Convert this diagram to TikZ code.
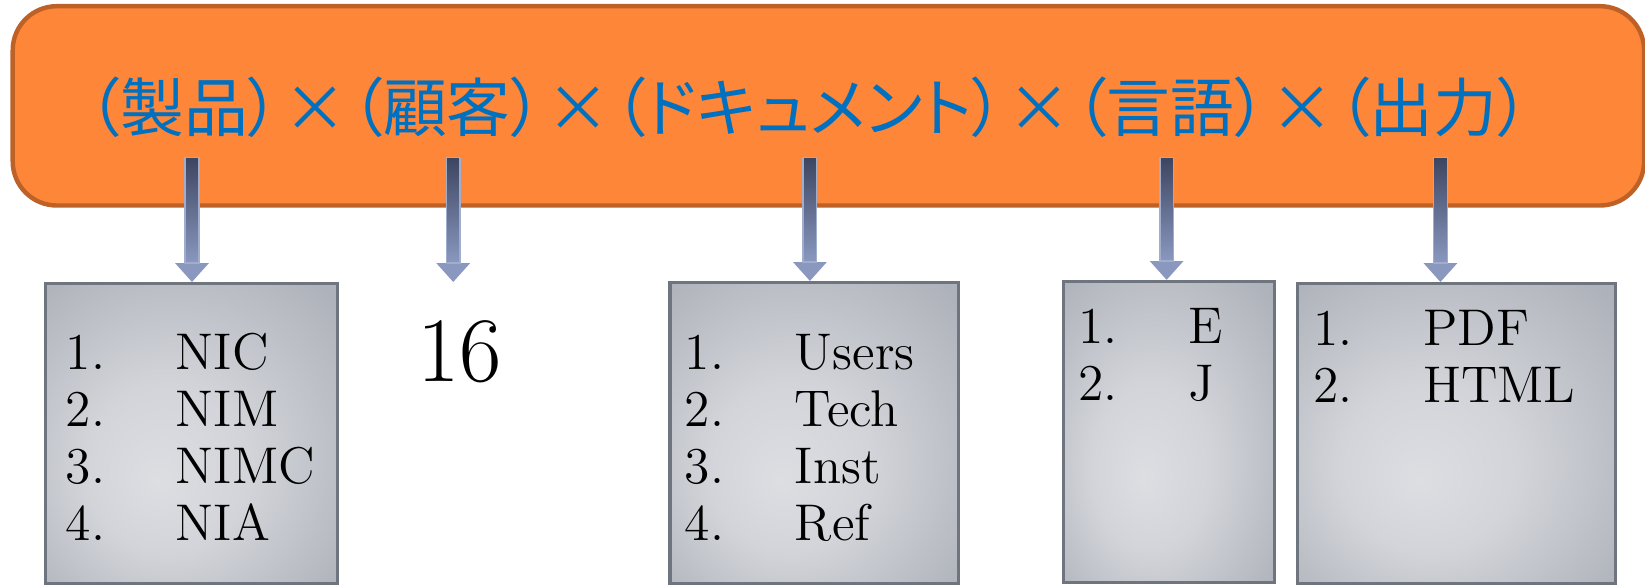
\documentclass[tikz,border=0pt]{standalone}
\usepackage{fontspec}
\newfontfamily\jpfont[RawFeature=+palt]{Noto Sans CJK JP}
\usetikzlibrary{arrows.meta,calc}

\definecolor{headorange}{HTML}{FD8638}
\definecolor{headedge}{HTML}{BD6127}
\definecolor{headblue}{HTML}{0070C0}
\definecolor{boxedge}{HTML}{6F757F}
\definecolor{boxlight}{HTML}{DDDEE2}
\definecolor{boxmid}{HTML}{D2D4D9}
\definecolor{boxdark}{HTML}{AEB2BA}
\definecolor{arrowdark}{HTML}{3C4560}
\definecolor{arrowlight}{HTML}{8A98C0}

% soft grey glow for the list boxes, lighter towards the lower left
\pgfdeclareradialshading{boxglow}{\pgfpoint{-6bp}{-8bp}}{%
  color(0bp)=(boxlight); color(14bp)=(boxmid); color(36bp)=(boxdark); color(50bp)=(boxdark)}

\tikzset{
  headbox/.style={draw=headedge, fill=headorange, line width=1.2pt, rounded corners=0.42cm, anchor=south west, inner sep=0pt},
  headtext/.style={text=headblue, inner sep=0pt, font=\jpfont\fontsize{17.3}{20}\selectfont},
  listbox/.style={draw=boxedge, line width=0.9pt, shading=boxglow, anchor=south west, inner sep=0pt},
  listtext/.style={anchor=base west, inner sep=0pt, font=\fontsize{14}{15.5}\selectfont},
  flow/.style={line width=0.13cm, draw=arrowlight, -{Triangle[width=0.31cm,length=0.18cm]}},
  shaft/.style={top color=arrowdark, bottom color=arrowlight, draw=arrowlight!80!white, line width=0.4pt},
}

\begin{document}
\begin{tikzpicture}
    \useasboundingbox (0,0) rectangle (15.68,5.60);

    % orange header with the product formula
    \node[headbox, minimum width=15.55cm, minimum height=1.90cm] (head) at (0.10,3.62) {};
    \node[headtext] (formula) at (7.71,4.58) {（製品）\kern.06em×\kern.06em（顧客）\kern.06em×\kern.06em（ドキュメント）\kern.06em×\kern.06em（言語）\kern.06em×\kern.06em（出力）};

    % start points of the arrows under each factor
    \coordinate (s1) at (1.83,4.10);
    \coordinate (s2) at (4.32,4.10);
    \coordinate (s3) at (7.72,4.10);
    \coordinate (s4) at (11.12,4.10);
    \coordinate (s5) at (13.73,4.10);

    % the lists below
    \node[listbox, minimum width=2.78cm, minimum height=2.86cm] (prod) at (0.42,0.02) {};
    \node[listbox, minimum width=2.75cm, minimum height=2.87cm] (doc) at (6.37,0.02) {};
    \node[listbox, minimum width=2.01cm, minimum height=2.87cm] (lang) at (10.12,0.03) {};
    \node[listbox, minimum width=3.03cm, minimum height=2.86cm] (out) at (12.35,0.02) {};

    \node[listtext] (prodlist) at (0.62,2.08) {\begin{tabular}[t]{@{}p{1.05cm}@{}l@{}}1. & NIC\\ 2. & NIM\\ 3. & NIMC\\ 4. & NIA\end{tabular}};
    \node[listtext] (doclist) at (6.52,2.08) {\begin{tabular}[t]{@{}p{1.05cm}@{}l@{}}1. & Users\\ 2. & Tech\\ 3. & Inst\\ 4. & Ref\end{tabular}};
    \node[listtext] (langlist) at (10.27,2.33) {\begin{tabular}[t]{@{}p{1.05cm}@{}l@{}}1. & E\\ 2. & J\end{tabular}};
    \node[listtext] (outlist) at (12.51,2.31) {\begin{tabular}[t]{@{}p{1.05cm}@{}l@{}}1. & PDF\\ 2. & HTML\end{tabular}};

    % number of customers
    \node[font=\fontsize{25}{30}\selectfont] (num) at (4.38,2.25) {16};

    % draw arrows from the header down to the lists
    \draw[flow] (s1) -- (s1 |- prod.north);
    \draw[flow] (s2) -- (s2 |- prod.north);
    \draw[flow] (s3) -- (s3 |- doc.north);
    \draw[flow] (s4) -- (s4 |- lang.north);
    \draw[flow] (s5) -- (s5 |- out.north);

    % shade the arrow shafts
    \shade[shaft] ($(s1)+(-0.065,0)$) rectangle ($(s1 |- prod.north)+(0.065,0.18)$);
    \shade[shaft] ($(s2)+(-0.065,0)$) rectangle ($(s2 |- prod.north)+(0.065,0.18)$);
    \shade[shaft] ($(s3)+(-0.065,0)$) rectangle ($(s3 |- doc.north)+(0.065,0.18)$);
    \shade[shaft] ($(s4)+(-0.065,0)$) rectangle ($(s4 |- lang.north)+(0.065,0.18)$);
    \shade[shaft] ($(s5)+(-0.065,0)$) rectangle ($(s5 |- out.north)+(0.065,0.18)$);
\end{tikzpicture}
\end{document}
